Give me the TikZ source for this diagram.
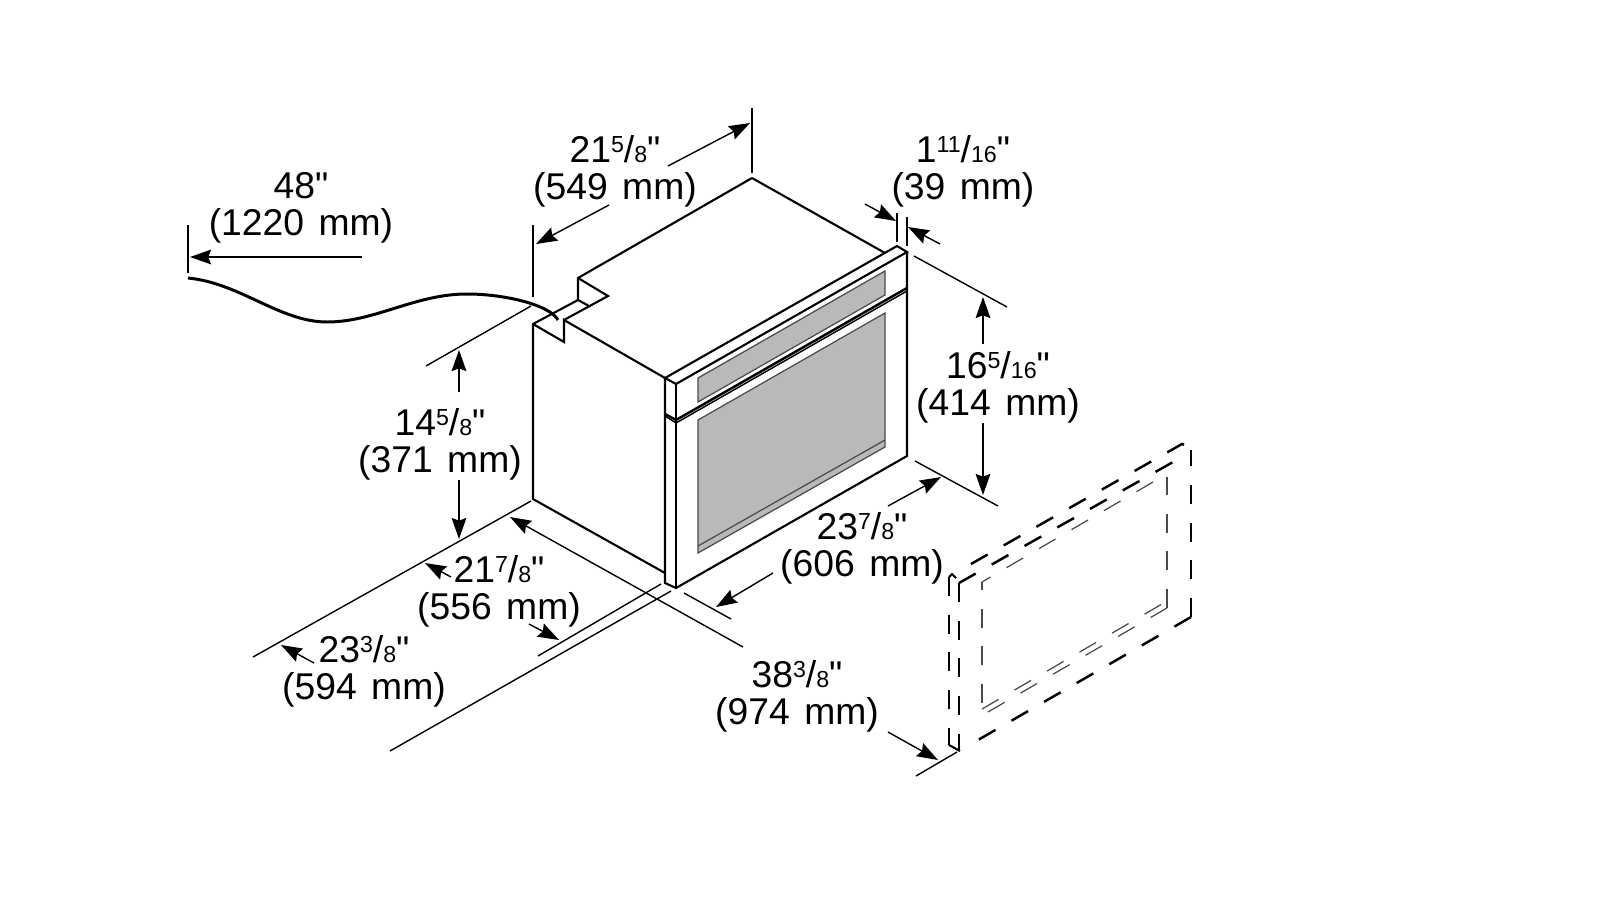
\documentclass[tikz,border=0pt]{standalone}
\usepackage{fontspec}
\setmainfont{Liberation Sans}[Ligatures=TeXOff,WordSpace=1.4]
\usetikzlibrary{arrows.meta}
\definecolor{panelgray}{HTML}{B9B9B9}
\definecolor{rimgray}{HTML}{4A4A4A}
\newcommand{\frc}[2]{\raisebox{0.27em}{\fontsize{6.6}{7}\selectfont #1}/{\fontsize{6.6}{7}\selectfont #2}}
\tikzset{
  body/.style={line width=0.6pt,line join=miter},
  thinline/.style={line width=0.4pt},
  dim/.style={line width=0.4pt,-{Stealth[length=6pt,width=4.2pt,inset=0.8pt]}},
  pane/.style={fill=panelgray,draw=rimgray,line width=0.35pt},
  hidden/.style={line width=0.7pt,dash pattern=on 5.45pt off 5.25pt},
  hiddenthin/.style={line width=0.35pt,draw=rimgray,dash pattern=on 5.45pt off 5.25pt},
  size/.style={font=\fontsize{10.6}{10.5}\selectfont,align=center,anchor=center,inner sep=0pt}
}
\begin{document}
\begin{tikzpicture}[x=0.01cm,y=-0.01cm]
  \useasboundingbox (0,0) rectangle (1600,900);
  % panes
  \draw[pane] (698,378) -- (885,271) -- (885,295) -- (698,402) -- cycle;
  \draw[pane] (698,420) -- (885,313) -- (885,447) -- (698,553) -- cycle;
  \draw[rimgray,line width=0.35pt] (698,546) -- (885,440);
  % oven body
  \draw[body] (752,178) -- (578,278) -- (578,300) -- (533,324) -- (533,499) -- (665,573);
  \draw[body] (752,178) -- (885,253);
  \draw[body] (578,278) -- (608,296) -- (564,320);
  \draw[body] (578,300) -- (589,306);
  \draw[body] (533,324) -- (564,342) -- (564,320) -- (665,378);
  % door frame
  \draw[body] (665,378) -- (897,246) -- (907,252) -- (676,384) -- cycle;
  \draw[body] (665,378) -- (665,583) -- (676,588) -- (907,456) -- (907,252);
  \draw[body] (676,384) -- (676,588);
  \draw[line width=0.7pt] (665,414) -- (676,420) -- (907,288);
  \draw[thinline] (665,416) -- (676,423) -- (907,291);
  % power cord
  \draw[line width=0.85pt] (188,278) .. controls (240,283) and (280,322) .. (327,322)
    .. controls (375,322) and (415,294) .. (467,294)
    .. controls (505,294) and (550,305) .. (558,320);
  % extension lines
  \draw[thinline] (188,225) -- (188,273);
  \draw[thinline] (533,225) -- (533,297);
  \draw[thinline] (752,108) -- (752,173);
  \draw[thinline] (897,213) -- (897,242);
  \draw[thinline] (907,217) -- (907,246);
  \draw[thinline] (914,256) -- (1007,307);
  \draw[thinline] (915,461) -- (998,506);
  \draw[thinline] (426,366) -- (531,306);
  \draw[thinline] (253,657) -- (531,501);
  \draw[thinline] (538,656) -- (661,584);
  \draw[thinline] (390,751) -- (671,591);
  \draw[thinline] (684,593) -- (731,619);
  \draw[thinline] (916,776) -- (957,752);
  % dimension arrows
  \draw[dim] (362,257) -- (190,257);
  \draw[dim] (668,166) -- (750,123);
  \draw[dim] (609,205) -- (536,244);
  \draw[dim] (865,204) -- (896,221);
  \draw[dim] (940,244) -- (908,227);
  \draw[dim] (983,344) -- (983,297);
  \draw[dim] (983,423) -- (983,495);
  \draw[dim] (459,392) -- (459,350);
  \draw[dim] (459,480) -- (459,539);
  \draw[dim] (888,506) -- (941,477);
  \draw[dim] (773,573) -- (716,607);
  \draw[dim] (743,647) -- (510,517);
  \draw[dim] (888,732) -- (938,760);
  \draw[dim] (451,577) -- (425,563);
  \draw[dim] (529,624) -- (559,640);
  \draw[dim] (314,663) -- (281,645);
  % trim outline
  \draw[hidden] (971,564) -- (1182,444) -- (1186,446);
  \draw[hidden] (1191,617) -- (1191,450);
  \draw[hidden] (1191,617) -- (978,740);
  \draw[hidden] (959,583) -- (1173,462);
  \draw[hidden] (959,583) -- (959,751);
  \draw[hidden] (949,577) -- (949,745);
  \draw[body] (949,577) -- (952,574) -- (956,578);
  \draw[body] (949,745) -- (960,751);
  \draw[hiddenthin] (1153,482) -- (982,582);
  \draw[hiddenthin] (982,703) -- (982,582);
  \draw[hiddenthin] (1167,608) -- (1167,477);
  \draw[hiddenthin] (982,709) -- (1162,604);
  \draw[hiddenthin] (988,712) -- (1167,608);
  % sizes
  \node[size] (cordlen) at (301,208) {48"\\(1220 mm)};
  \node[size] (depthcase) at (615,171) {21\frc{5}{8}"\\(549 mm)};
  \node[size] (facia) at (963,171) {1\frc{11}{16}"\\(39 mm)};
  \node[size] (heightdoor) at (998,387) {16\frc{5}{16}"\\(414 mm)};
  \node[size] (heightcase) at (440,444) {14\frc{5}{8}"\\(371 mm)};
  \node[size] (widthdoor) at (862,548) {23\frc{7}{8}"\\(606 mm)};
  \node[size] (depthcut) at (499,591) {21\frc{7}{8}"\\(556 mm)};
  \node[size] (depthmin) at (364,671) {23\frc{3}{8}"\\(594 mm)};
  \node[size] (depthopen) at (797,696) {38\frc{3}{8}"\\(974 mm)};
\end{tikzpicture}
\end{document}
